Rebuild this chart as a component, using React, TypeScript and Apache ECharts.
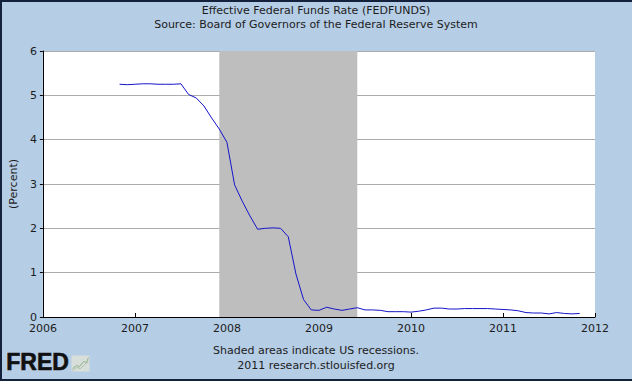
import React, { useEffect, useRef } from "react";
import * as echarts from "echarts";

const months: string[] = [
  "2006-11", "2006-12",
  "2007-01", "2007-02", "2007-03", "2007-04", "2007-05", "2007-06", "2007-07", "2007-08", "2007-09", "2007-10", "2007-11", "2007-12",
  "2008-01", "2008-02", "2008-03", "2008-04", "2008-05", "2008-06", "2008-07", "2008-08", "2008-09", "2008-10", "2008-11", "2008-12",
  "2009-01", "2009-02", "2009-03", "2009-04", "2009-05", "2009-06", "2009-07", "2009-08", "2009-09", "2009-10", "2009-11", "2009-12",
  "2010-01", "2010-02", "2010-03", "2010-04", "2010-05", "2010-06", "2010-07", "2010-08", "2010-09", "2010-10", "2010-11", "2010-12",
  "2011-01", "2011-02", "2011-03", "2011-04", "2011-05", "2011-06", "2011-07", "2011-08", "2011-09", "2011-10", "2011-11",
];

const fedFunds: number[] = [
  5.25, 5.24,
  5.25, 5.26, 5.26, 5.25, 5.25, 5.25, 5.26, 5.02, 4.94, 4.76, 4.49, 4.24,
  3.94, 2.98, 2.61, 2.28, 1.98, 2.0, 2.01, 2.0, 1.81, 0.97, 0.39, 0.16,
  0.15, 0.22, 0.18, 0.15, 0.18, 0.21, 0.16, 0.16, 0.15, 0.12, 0.12, 0.12,
  0.11, 0.13, 0.16, 0.2, 0.2, 0.18, 0.18, 0.19, 0.19, 0.19, 0.19, 0.18,
  0.17, 0.16, 0.14, 0.1, 0.09, 0.09, 0.07, 0.1, 0.08, 0.07, 0.08,
];

const recessions: [string, string][] = [["2007-12", "2009-06"]];

const titleText = "Effective Federal Funds Rate (FEDFUNDS)";
const subtitleText = "Source: Board of Governors of the Federal Reserve System";
const footer1 = "Shaded areas indicate US recessions.";
const footer2 = "2011 research.stlouisfed.org";
const yAxisName = "(Percent)";

const toYear = (s: string): number => {
  const [y, m] = s.split("-").map(Number);
  return y + (m - 1) / 12;
};

const FONT = "DejaVu Sans, Verdana, sans-serif";
const TEXT = "#1c1c1c";

export default function App() {
  const ref = useRef<HTMLDivElement>(null);
  useEffect(() => {
    if (!ref.current) return;
    const chart = echarts.init(ref.current, null, { renderer: "svg" });
    const data = months.map((m, i) => [toYear(m), fedFunds[i]]);
    chart.setOption({
      animation: false,
      backgroundColor: "#B5CDE5",
      textStyle: { fontFamily: FONT },
      grid: {
        left: 41,
        right: 37,
        top: 51,
        bottom: 64,
        show: true,
        backgroundColor: "#FFFFFF",
        borderWidth: 0,
      },
      xAxis: {
        type: "value",
        min: 2006,
        max: 2012,
        interval: 1,
        z: 0,
        axisLine: { show: true, onZero: false, lineStyle: { color: "#000", width: 1 } },
        axisTick: { show: true, inside: true, length: 4, lineStyle: { color: "#000" } },
        axisLabel: { color: TEXT, fontSize: 11, fontFamily: FONT, margin: 6, formatter: (v: number) => String(v) },
        splitLine: { show: false },
      },
      yAxis: {
        type: "value",
        min: 0,
        max: 6,
        interval: 1,
        z: 0,
        name: yAxisName,
        nameLocation: "middle",
        nameGap: 23,
        nameRotate: 90,
        nameTextStyle: { color: TEXT, fontSize: 11, fontFamily: FONT },
        axisLine: { show: true, lineStyle: { color: "#000", width: 1 } },
        axisTick: { show: true, length: 3, lineStyle: { color: "#000" } },
        axisLabel: { color: TEXT, fontSize: 11, fontFamily: FONT, margin: 6 },
        splitLine: { show: true, lineStyle: { color: "#ABABAB", width: 1 } },
      },
      series: [
        {
          type: "line",
          data,
          showSymbol: false,
          symbol: "none",
          lineStyle: { color: "#1414C8", width: 1 },
          markArea: {
            silent: true,
            z: 2,
            itemStyle: { color: "#BEBEBE", opacity: 1 },
            data: recessions.map(([a, b]) => [{ xAxis: toYear(a) }, { xAxis: toYear(b) }]),
          },
          z: 4,
        },
      ],
      graphic: [
        {
          type: "text",
          left: "center",
          top: 5,
          style: { text: titleText, fill: TEXT, font: `11px ${FONT}` },
        },
        {
          type: "text",
          left: "center",
          top: 19,
          style: { text: subtitleText, fill: TEXT, font: `11px ${FONT}` },
        },
        {
          type: "text",
          left: "center",
          top: 345,
          style: { text: footer1, fill: TEXT, font: `11px ${FONT}` },
        },
        {
          type: "text",
          left: "center",
          top: 360,
          style: { text: footer2, fill: TEXT, font: `11px ${FONT}` },
        },
        {
          type: "text",
          left: 6,
          top: 350,
          style: { text: "FRED", fill: "#111", font: `900 23px Liberation Sans, Arial, sans-serif`, stroke: "#111", lineWidth: 0.6 },
        },
        {
          type: "group",
          left: 70,
          top: 355,
          children: [
            { type: "rect", shape: { x: 0, y: 0, width: 18, height: 16 }, style: { fill: "#D8DEDA" } },
            {
              type: "polyline",
              shape: { points: [[1, 13], [5, 10], [8, 11], [12, 6], [15, 7], [17, 2]] },
              style: { stroke: "#8FB48A", lineWidth: 1, fill: "none" },
            },
            {
              type: "polyline",
              shape: { points: [[1, 15], [5, 12], [9, 13], [13, 9], [17, 6]] },
              style: { stroke: "#A9BFA6", lineWidth: 1, fill: "none" },
            },
          ],
        },
        {
          type: "rect",
          left: 0,
          top: 0,
          shape: { x: 0, y: 0, width: 632, height: 2 },
          style: { fill: "#14213D" },
        },
        {
          type: "rect",
          left: 0,
          top: 0,
          shape: { x: 0, y: 0, width: 2, height: 381 },
          style: { fill: "#14213D" },
        },
        {
          type: "rect",
          left: 0,
          top: 379,
          shape: { x: 0, y: 0, width: 632, height: 2 },
          style: { fill: "#14213D" },
        },
      ],
    });
    return () => chart.dispose();
  }, []);
  return (
    <div
      ref={ref}
      style={{ position: "fixed", left: 0, top: 0, width: 632, height: 381 }}
    />
  );
}
